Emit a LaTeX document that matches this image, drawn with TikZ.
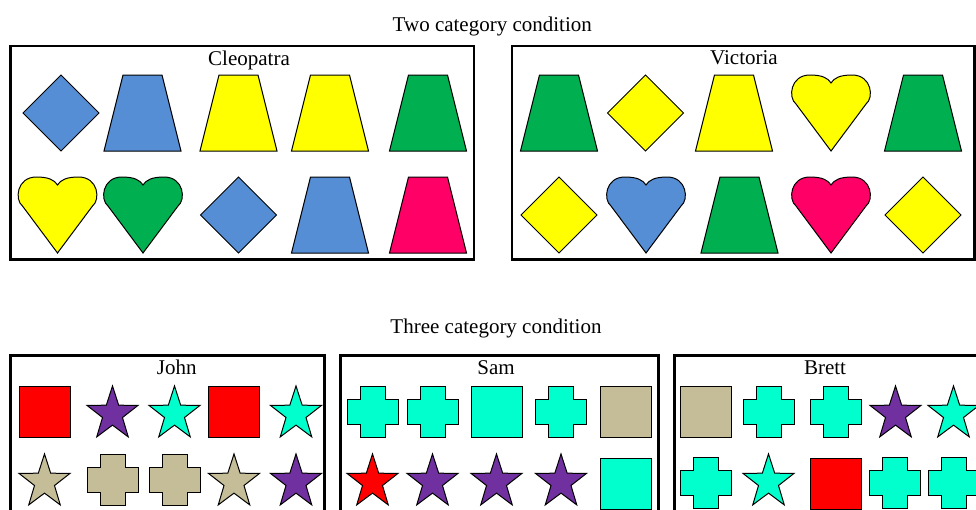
\documentclass[tikz,border=0pt]{standalone}
\usepackage{fontspec}
\setmainfont{Liberation Serif}
\definecolor{cblue}{RGB}{85,142,213}
\definecolor{cyellow}{RGB}{255,255,0}
\definecolor{cgreen}{RGB}{0,176,80}
\definecolor{cpink}{RGB}{255,0,102}
\definecolor{cred}{RGB}{255,0,0}
\definecolor{cpurple}{RGB}{112,48,160}
\definecolor{ccyan}{RGB}{0,255,204}
\definecolor{ctan}{RGB}{196,189,151}
\tikzset{
  shp/.style={draw=black, line width=1pt, line join=miter},
  panel/.style={draw=black, line width=2.7pt},
  lbl/.style={anchor=base, font=\fontsize{21}{25}\selectfont, inner sep=0pt},
}
% shapes: #1 colour, #2 centre x, #3 top y
\newcommand\trapsh[3]{\draw[shp,fill=#1,shift={(#2,#3)}] (-19.5,0) -- (19.5,0) -- (38.5,76) -- (-38.5,76) -- cycle;}
\newcommand\diamsh[3]{\draw[shp,fill=#1,shift={(#2,#3)}] (0,0) -- (38,38) -- (0,76) -- (-38,38) -- cycle;}
\newcommand\heartsh[3]{\draw[shp,fill=#1,shift={(#2,#3)}]
  (0,76) -- (-35,29) .. controls (-43,23) and (-41,0) .. (-21,0)
  .. controls (-9,0) and (-3,3) .. (0,8)
  .. controls (3,3) and (9,0) .. (21,0)
  .. controls (41,0) and (43,23) .. (35,29) -- cycle;}
\newcommand\sqsh[3]{\draw[shp,fill=#1,shift={(#2,#3)}] (-25.5,0) rectangle (25.5,51);}
\newcommand\crosssh[3]{\draw[shp,fill=#1,shift={(#2,#3+25.5)}]
  (-12.5,-25.5) -- (12.5,-25.5) -- (12.5,-12.5) -- (25.5,-12.5) -- (25.5,12.5) -- (12.5,12.5)
  -- (12.5,25.5) -- (-12.5,25.5) -- (-12.5,12.5) -- (-25.5,12.5) -- (-25.5,-12.5) -- (-12.5,-12.5) -- cycle;}
\newcommand\starsh[3]{\draw[shp,fill=#1,shift={(#2,#3+28.1)},yscale=1.05]
  (90:26.8pt) -- (126:10.5pt) -- (162:26.8pt) -- (198:10.5pt) -- (234:26.8pt) -- (270:10.5pt)
  -- (306:26.8pt) -- (342:10.5pt) -- (18:26.8pt) -- (54:10.5pt) -- cycle;}
\begin{document}
\begin{tikzpicture}[x=1pt,y=-1pt]
\useasboundingbox (0,0) rectangle (976,509);
\clip (0,0) rectangle (976,509);

% ---- two category condition ----
\node[lbl] (t2) at (492.3,31) {Two category condition};
\draw[panel] (10.7,46) rectangle (474,259.3);
\draw[panel] (512,46) rectangle (974.8,259.3);
\node[lbl] (cleo) at (249,65) {Cleopatra};
\node[lbl] (vict) at (744,64.5) {Victoria};

% Cleopatra
\diamsh{cblue}{61}{75}
\trapsh{cblue}{142.5}{75}
\trapsh{cyellow}{238.5}{75}
\trapsh{cyellow}{330}{75}
\trapsh{cgreen}{428}{75}
\heartsh{cyellow}{57.5}{177}
\heartsh{cgreen}{143}{177}
\diamsh{cblue}{238.5}{177}
\trapsh{cblue}{330}{177}
\trapsh{cpink}{428}{177}

% Victoria
\trapsh{cgreen}{559}{75}
\diamsh{cyellow}{645.5}{75}
\trapsh{cyellow}{734}{75}
\heartsh{cyellow}{831}{75}
\trapsh{cgreen}{923}{75}
\diamsh{cyellow}{559}{177}
\heartsh{cblue}{646}{177}
\trapsh{cgreen}{739.5}{177}
\heartsh{cpink}{831}{177}
\diamsh{cyellow}{923}{177}

% ---- three category condition ----
\node[lbl] (t3) at (496,333) {Three category condition};
\draw[panel] (10.7,355.3) rectangle (324.5,540);
\draw[panel] (340.5,355.3) rectangle (658.3,540);
\draw[panel] (674.7,355.3) rectangle (1000,540);
\node[lbl] (john) at (176.7,374.3) {John};
\node[lbl] (sam) at (496,374.3) {Sam};
\node[lbl] (brett) at (825,374.3) {Brett};

% John
\sqsh{cred}{44.5}{386}
\starsh{cpurple}{112.5}{386}
\starsh{ccyan}{174.5}{386}
\sqsh{cred}{234}{386}
\starsh{ccyan}{296}{386}
\starsh{ctan}{44.5}{454}
\crosssh{ctan}{112.5}{454}
\crosssh{ctan}{174.5}{454}
\starsh{ctan}{234}{454}
\starsh{cpurple}{296}{454}

% Sam
\crosssh{ccyan}{372.5}{386}
\crosssh{ccyan}{432.5}{386}
\sqsh{ccyan}{496.5}{386}
\crosssh{ccyan}{561}{386}
\sqsh{ctan}{625.5}{386}
\starsh{cred}{372.5}{454}
\starsh{cpurple}{432.5}{454}
\starsh{cpurple}{496.5}{454}
\starsh{cpurple}{561}{454}
\sqsh{ccyan}{625.5}{458}

% Brett
\sqsh{ctan}{705.5}{386}
\crosssh{ccyan}{768.5}{386}
\crosssh{ccyan}{835.5}{386}
\starsh{cpurple}{895.5}{386}
\starsh{ccyan}{953.5}{386}
\crosssh{ccyan}{705.5}{457}
\starsh{ccyan}{768.5}{454}
\sqsh{cred}{835.5}{458}
\crosssh{ccyan}{895}{457}
\crosssh{ccyan}{953.5}{457}
\end{tikzpicture}
\end{document}
